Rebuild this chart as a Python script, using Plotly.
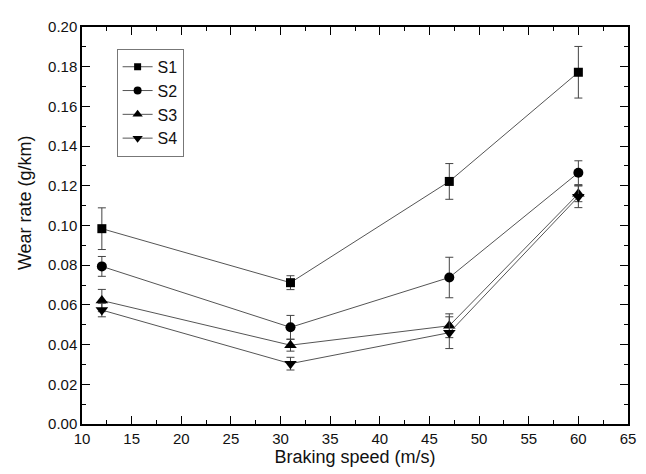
import plotly.graph_objects as go

speed = [12, 31, 47, 60]
series_names = ["S1", "S2", "S3", "S4"]
s1 = [0.0984, 0.0712, 0.1222, 0.1772]
s1_err = [0.0105, 0.0035, 0.009, 0.013]
s2 = [0.0794, 0.0487, 0.0738, 0.1266]
s2_err = [0.005, 0.006, 0.0102, 0.006]
s3 = [0.0622, 0.0397, 0.0495, 0.116]
s3_err = [0.0056, 0.003, 0.006, 0.004]
s4 = [0.0574, 0.0304, 0.046, 0.1145]
s4_err = [0.0034, 0.0032, 0.008, 0.0055]

symbols = ["square", "circle", "triangle-up", "triangle-down"]
sizes = [9, 10, 11, 11]
legend_sizes = [7, 8, 9, 9]
values = [s1, s2, s3, s4]
errors = [s1_err, s2_err, s3_err, s4_err]

FONT = "Liberation Sans, Arial"

fig = go.Figure()
for name, y, e, sym, sz in zip(series_names, values, errors, symbols, sizes):
    fig.add_trace(go.Scatter(
        x=speed, y=y, name=name, mode="lines+markers", showlegend=False,
        line=dict(color="#555555", width=1),
        marker=dict(symbol=sym, size=sz, color="black", line=dict(width=0)),
        error_y=dict(type="data", array=e, visible=True, color="#444444",
                     thickness=1, width=4),
    ))
# legend entries with smaller sample markers
for name, sym, lsz in zip(series_names, symbols, legend_sizes):
    fig.add_trace(go.Scatter(
        x=[None], y=[None], name=name, mode="lines+markers",
        line=dict(color="#555555", width=1),
        marker=dict(symbol=sym, size=lsz, color="black", line=dict(width=0)),
    ))

axis_common = dict(
    showline=True, linecolor="black", linewidth=1.5, mirror="ticks",
    ticks="inside", ticklen=8, tickwidth=1.2, tickcolor="black",
    showgrid=False, zeroline=False,
    tickfont=dict(family=FONT, size=15, color="#111111"),
)

fig.update_xaxes(
    range=[10, 65], tick0=10, dtick=5,
    minor=dict(ticks="inside", ticklen=4, tickwidth=1.2, tickcolor="black", dtick=2.5),
    title=dict(text="Braking speed (m/s)", standoff=0,
               font=dict(family=FONT, size=18, color="#111111")),
    **axis_common,
)
fig.update_yaxes(
    range=[0, 0.20], tick0=0, dtick=0.02, tickformat=".2f",
    minor=dict(ticks="inside", ticklen=4, tickwidth=1.2, tickcolor="black", dtick=0.01),
    **axis_common,
)

fig.add_annotation(
    text="Wear rate (g/km)", textangle=-90, xref="paper", yref="paper",
    x=-0.104, y=0.557, showarrow=False, xanchor="center", yanchor="middle",
    font=dict(family=FONT, size=18, color="#111111"),
)

fig.update_layout(
    width=638, height=466,
    margin=dict(l=74, r=17, t=10, b=50),
    paper_bgcolor="white", plot_bgcolor="white",
    legend=dict(
        x=0.0634, y=0.945, xanchor="left", yanchor="top",
        bordercolor="#777777", borderwidth=1, bgcolor="white",
        font=dict(family=FONT, size=16, color="#111111"),
        tracegroupgap=0,
    ),
    showlegend=True,
)

fig.write_html("out.html")
